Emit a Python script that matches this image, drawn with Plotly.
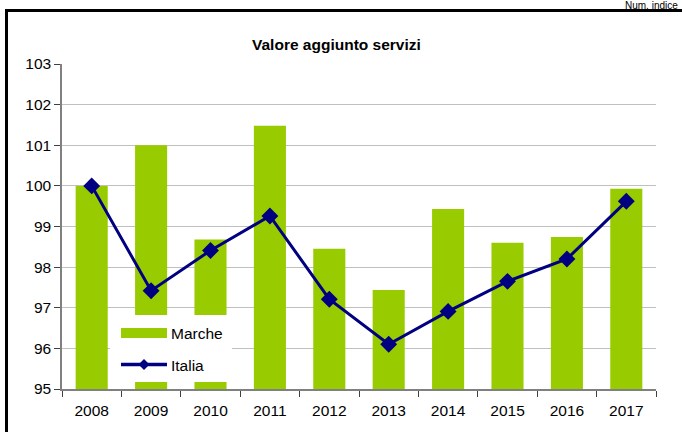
import plotly.graph_objects as go

years = ["2008", "2009", "2010", "2011", "2012", "2013", "2014", "2015", "2016", "2017"]
marche = [100.0, 101.0, 98.68, 101.48, 98.45, 97.44, 99.43, 98.6, 98.74, 99.93]
italia = [100.0, 97.42, 98.41, 99.26, 97.21, 96.1, 96.91, 97.65, 98.2, 99.62]
y_ticks = [95, 96, 97, 98, 99, 100, 101, 102, 103]

W, H = 682, 432
L, R, T, B = 62, 26, 64, 43
PW, PH = W - L - R, H - T - B

def fx(p):
    return (p - L) / PW

def fy(p):
    return (H - B - p) / PH

GREEN = "#99CC00"
NAVY = "#000080"
FONT = "Liberation Sans, Arial, sans-serif"
FS = 15.5

fig = go.Figure()
fig.add_trace(go.Bar(x=years, y=marche, name="Marche", marker=dict(color=GREEN, line=dict(width=0)),
                     width=0.54, showlegend=False))
fig.add_trace(go.Scatter(x=years, y=italia, name="Italia", mode="lines+markers",
                         line=dict(color=NAVY, width=3),
                         marker=dict(symbol="diamond", size=13, color=NAVY),
                         showlegend=False))

shapes = []
# legend background
shapes.append(dict(type="rect", xref="paper", yref="paper", x0=fx(110), x1=fx(232), y0=fy(382), y1=fy(315),
                   fillcolor="white", line=dict(width=0), layer="above"))
# legend Marche swatch
shapes.append(dict(type="rect", xref="paper", yref="paper", x0=fx(121), x1=fx(167), y0=fy(338), y1=fy(328),
                   fillcolor=GREEN, line=dict(width=0), layer="above"))
# legend Italia line
shapes.append(dict(type="line", xref="paper", yref="paper", x0=fx(121), x1=fx(167), y0=fy(364.5), y1=fy(364.5),
                   line=dict(color=NAVY, width=3.5), layer="above"))
cx, cy, r = 144, 364.5, 5.5
path = "M {} {} L {} {} L {} {} L {} {} Z".format(fx(cx), fy(cy - r), fx(cx + r), fy(cy), fx(cx), fy(cy + r), fx(cx - r), fy(cy))
shapes.append(dict(type="path", xref="paper", yref="paper", path=path, fillcolor=NAVY, line=dict(width=0), layer="above"))
# outer frame
shapes.append(dict(type="line", xref="paper", yref="paper", x0=fx(6.5), x1=fx(682), y0=fy(10.5), y1=fy(10.5),
                   line=dict(color="black", width=3)))
shapes.append(dict(type="line", xref="paper", yref="paper", x0=fx(6.5), x1=fx(6.5), y0=fy(9), y1=fy(432),
                   line=dict(color="black", width=3)))

annotations = [
    dict(text="<b>Valore aggiunto servizi</b>", xref="paper", yref="paper", x=fx(336), y=fy(45),
         xanchor="center", yanchor="middle", showarrow=False, font=dict(family=FONT, size=FS, color="black")),
    dict(text="Marche", xref="paper", yref="paper", x=fx(169), y=fy(333), xanchor="left", yanchor="middle",
         showarrow=False, font=dict(family=FONT, size=FS, color="black")),
    dict(text="Italia", xref="paper", yref="paper", x=fx(169), y=fy(365), xanchor="left", yanchor="middle",
         showarrow=False, font=dict(family=FONT, size=FS, color="black")),
    dict(text="Num. indice", xref="paper", yref="paper", x=fx(680), y=fy(-2), xanchor="right", yanchor="top",
         showarrow=False, font=dict(family=FONT, size=10, color="black")),
]

fig.update_layout(
    width=W, height=H, template="none",
    margin=dict(l=L, r=R, t=T, b=B, autoexpand=False),
    paper_bgcolor="white", plot_bgcolor="white",
    font=dict(family=FONT, size=FS, color="black"),
    shapes=shapes, annotations=annotations, bargap=0.46,
    showlegend=False,
)
fig.update_xaxes(type="category", range=[-0.5, 9.5], showgrid=False, showline=True, linecolor="#808080",
                 linewidth=1.5, ticks="outside", tickson="boundaries", ticklen=6, tickcolor="#404040",
                 automargin=False, tickfont=dict(size=FS), zeroline=False, ticklabelstandoff=7)
fig.update_yaxes(range=[95, 103], tickvals=y_ticks, showgrid=True, gridcolor="#C0C0C0", gridwidth=1,
                 showline=True, linecolor="#808080", linewidth=1.5, ticks="outside", ticklen=6,
                 tickcolor="#404040", automargin=False, tickfont=dict(size=FS), zeroline=False)

fig.write_html("out.html", config={"displayModeBar": False},
               post_script="document.body.style.margin='0px';document.body.style.overflow='hidden';")
